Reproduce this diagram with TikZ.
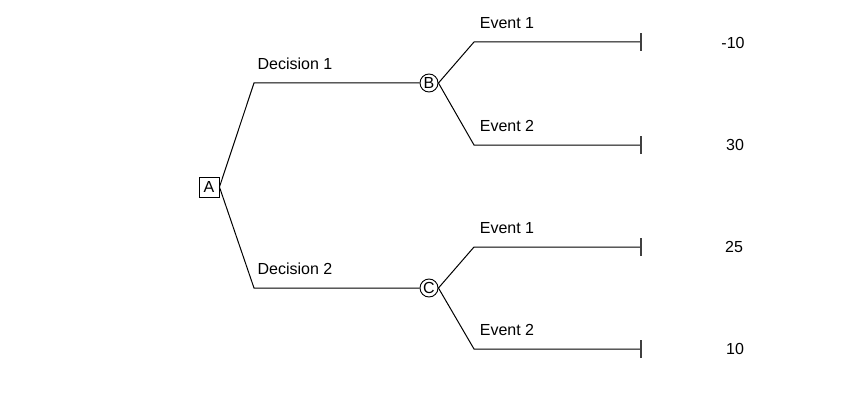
\documentclass[tikz,border=0pt]{standalone}
\usepackage{fontspec}
\setmainfont{Liberation Sans}
\begin{document}
\begin{tikzpicture}[x=1pt,y=-1pt,
  lbl/.style={font=\fontsize{16}{18}\selectfont, inner sep=0pt},
  chance/.style={circle,draw,line width=0.9pt,minimum size=18pt,inner sep=0pt,font=\fontsize{16}{18}\selectfont},
  decision/.style={rectangle,draw,line width=0.9pt,minimum width=20pt,minimum height=20pt,inner sep=0pt,font=\fontsize{16}{18}\selectfont},
  edge/.style={draw,line width=1pt},
  term/.style={line width=1.2pt,draw=black!75}]
\useasboundingbox (0,0) rectangle (867,409);
\node[decision] (A) at (209,187) {A};
\coordinate (d1) at (254,83);
\coordinate (d2) at (254,288);
\node[chance] (B) at (429,83) {B};
\node[chance] (C) at (429,288) {C};
\coordinate (b1) at (474,42);
\coordinate (b2) at (474,145);
\coordinate (c1) at (474,247);
\coordinate (c2) at (474,349);
\coordinate (t1) at (641,42);
\coordinate (t2) at (641,145);
\coordinate (t3) at (641,247);
\coordinate (t4) at (641,349);
\draw[edge] (A.east) -- (d1) -- (B.west);
\draw[edge] (A.east) -- (d2) -- (C.west);
\draw[edge] (B.east) -- (b1) -- (t1);
\draw[edge] (B.east) -- (b2) -- (t2);
\draw[edge] (C.east) -- (c1) -- (t3);
\draw[edge] (C.east) -- (c2) -- (t4);
\foreach \t in {t1,t2,t3,t4} \draw[term] ([yshift=-9pt]\t) -- ([yshift=9pt]\t);
\node[lbl] (ld1) at (295,64) {Decision 1};
\node[lbl] (ld2) at (295,269) {Decision 2};
\node[lbl] (le1) at (507,23) {Event 1};
\node[lbl] (le2) at (507,126) {Event 2};
\node[lbl] (le3) at (507,228) {Event 1};
\node[lbl] (le4) at (507,330) {Event 2};
\node[lbl] (v1) at (733,43) {-10};
\node[lbl] (v2) at (735,145) {30};
\node[lbl] (v3) at (734,247) {25};
\node[lbl] (v4) at (735,349) {10};
\end{tikzpicture}
\end{document}
